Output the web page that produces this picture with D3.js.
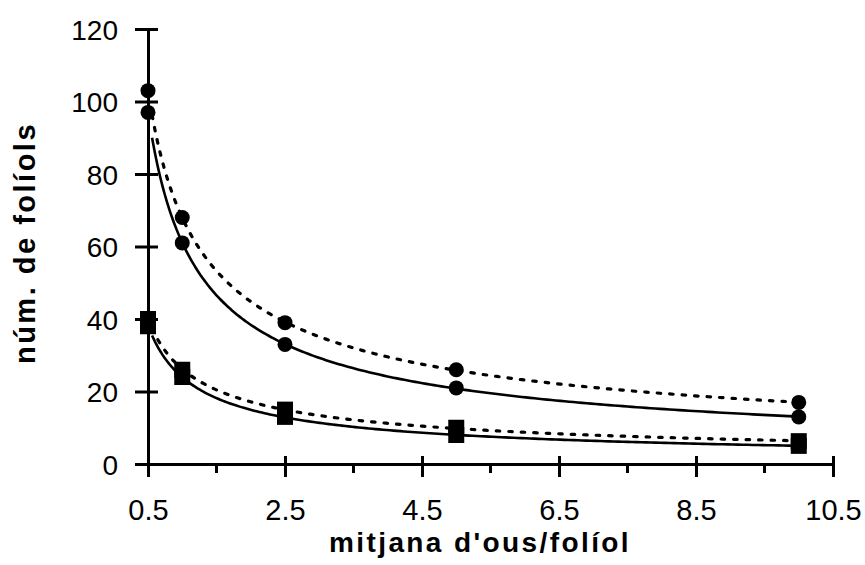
<!DOCTYPE html>
<html>
<head>
<meta charset="utf-8">
<script src="https://cdn.jsdelivr.net/npm/d3@7"></script>
<style>
  html, body { margin: 0; padding: 0; background: #fff; }
  svg { display: block; }
  text { font-family: "Liberation Sans", Arial, sans-serif; fill: #000; }
</style>
</head>
<body>
<svg id="chart" width="865" height="565"></svg>
<script>
// Mean eggs per leaflet (x) and number of leaflets (y)
const xValues = [0.5, 1, 2.5, 5, 10];
const circlesUpper = [103, 68, 39, 26, 17];   // dotted fit
const circlesLower = [97, 61, 33, 21, 13];    // solid fit
const squaresUpper = [40, 26, 15, 10, 6.3];   // dotted fit
const squaresLower = [38, 24, 13, 8, 5];      // solid fit
const xTicks = [0.5, 2.5, 4.5, 6.5, 8.5, 10.5];
const xMinorTicks = [1.5, 3.5, 5.5, 7.5, 9.5];
const yTicks = [0, 20, 40, 60, 80, 100, 120];

const svg = d3.select("#chart");
const x = d3.scaleLinear().domain([0.5, 10.5]).range([148, 833]);
const y = d3.scaleLinear().domain([0, 120]).range([464, 29]);

// Power-law trend (y = a·x^b) fitted by least squares on log–log values
function powerFit(xs, ys) {
  const lx = xs.map(Math.log), ly = ys.map(Math.log);
  const n = xs.length;
  const mx = d3.mean(lx), my = d3.mean(ly);
  let sxy = 0, sxx = 0;
  for (let i = 0; i < n; i++) { sxy += (lx[i] - mx) * (ly[i] - my); sxx += (lx[i] - mx) ** 2; }
  const b = sxy / sxx, a = Math.exp(my - b * mx);
  return v => a * Math.pow(v, b);
}

const series = [
  { values: circlesUpper, shape: "circle", dashed: true },
  { values: circlesLower, shape: "circle", dashed: false },
  { values: squaresUpper, shape: "square", dashed: true },
  { values: squaresLower, shape: "square", dashed: false }
];

const line = d3.line().x(d => x(d[0])).y(d => y(d[1])).curve(d3.curveBasis);
const sampleX = d3.range(0, 201).map(i => 0.56 + (10 - 0.56) * Math.pow(i / 200, 1.6));

// Trend lines
series.forEach(s => {
  const f = powerFit(xValues, s.values);
  svg.append("path")
    .datum(sampleX.map(v => [v, f(v)]))
    .attr("d", line)
    .attr("fill", "none")
    .attr("stroke", "#000")
    .attr("stroke-width", s.dashed ? 3.2 : 2.6)
    .attr("stroke-linecap", s.dashed ? "round" : "butt")
    .attr("stroke-dasharray", s.dashed ? "3.5,9" : null);
});

// Axes
const yAxis = d3.axisLeft(y).tickValues(yTicks).tickSizeInner(0).tickSizeOuter(0).tickPadding(30);
const gy = svg.append("g").attr("transform", `translate(${x(0.5)},0)`).call(yAxis);
gy.select(".domain").attr("stroke", "#000").attr("stroke-width", 3);
gy.selectAll(".tick line").remove();
gy.selectAll(".tick").append("line")
  .attr("x1", -13).attr("x2", 10).attr("stroke", "#000").attr("stroke-width", 3);
gy.selectAll(".tick text").style("font-size", "28px").attr("dy", "0.36em");

const xAxis = d3.axisBottom(x).tickValues(xTicks).tickFormat(d3.format(".1f"))
  .tickSizeInner(0).tickSizeOuter(0).tickPadding(35);
const gx = svg.append("g").attr("transform", `translate(0,${y(0)})`).call(xAxis);
gx.select(".domain").attr("stroke", "#000").attr("stroke-width", 3);
gx.selectAll(".tick line").remove();
gx.selectAll(".tick").append("line")
  .attr("y1", -8).attr("y2", 13).attr("stroke", "#000").attr("stroke-width", 3);
gx.selectAll(".tick text").style("font-size", "29px");
gx.selectAll(".minor").data(xMinorTicks).enter().append("line")
  .attr("x1", d => x(d)).attr("x2", d => x(d))
  .attr("y1", 0).attr("y2", 9)
  .attr("stroke", "#000").attr("stroke-width", 3);

// Markers
series.forEach(s => {
  const g = svg.append("g");
  if (s.shape === "circle") {
    g.selectAll("circle").data(xValues).enter().append("circle")
      .attr("cx", d => x(d)).attr("cy", (d, i) => y(s.values[i])).attr("r", 7.5).attr("fill", "#000");
  } else {
    g.selectAll("rect").data(xValues).enter().append("rect")
      .attr("x", d => x(d) - 8).attr("y", (d, i) => y(s.values[i]) - 8)
      .attr("width", 16).attr("height", 16).attr("fill", "#000");
  }
});

// Axis titles
svg.append("text")
  .attr("x", 480).attr("y", 552)
  .attr("text-anchor", "middle")
  .style("font-size", "28px").style("font-weight", "bold").style("letter-spacing", "2.4px")
  .text("mitjana d'ous/folíol");

svg.append("text")
  .attr("transform", "translate(35,243) rotate(-90)")
  .attr("text-anchor", "middle")
  .style("font-size", "29px").style("font-weight", "bold").style("letter-spacing", "2.5px")
  .text("núm. de folíols");
</script>
</body>
</html>
